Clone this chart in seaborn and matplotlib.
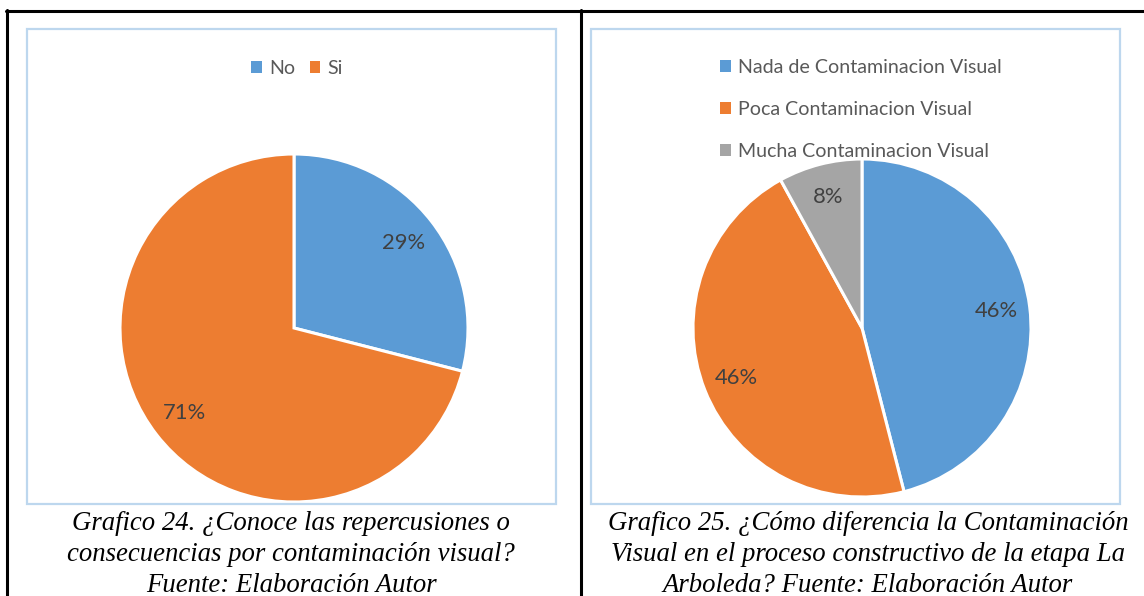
import matplotlib
matplotlib.use("Agg")
import matplotlib.pyplot as plt
from matplotlib.patches import Patch, Rectangle
from matplotlib.lines import Line2D
import seaborn as sns

# ---- data ----
q24_labels = ["No", "Si"]
q24_values = [29, 71]

q25_labels = ["Nada de Contaminacion Visual", "Poca Contaminacion Visual",
              "Mucha Contaminacion Visual"]
q25_values = [46, 46, 8]

caption_24 = ("Grafico 24. ¿Conoce las repercusiones o\n"
              "consecuencias por contaminación visual?\n"
              "Fuente: Elaboración Autor")
caption_25 = ("Grafico 25. ¿Cómo diferencia la Contaminación\n"
              "Visual en el proceso constructivo de la etapa La\n"
              "Arboleda? Fuente: Elaboración Autor")

sns.set_theme(style="white")
plt.rcParams["font.family"] = ["Lato", "DejaVu Sans"]

palette = sns.color_palette(["#5B9BD5", "#ED7D31", "#A5A5A5"])
W, H = 1144, 596
fig = plt.figure(figsize=(W / 100, H / 100), dpi=100)
fig.patch.set_facecolor("white")


def fx(px):
    return px / W


def fy(py):
    return 1 - py / H


# table frame lines
line_kw = dict(color="black", linewidth=2.2, transform=fig.transFigure)
fig.add_artist(Line2D([fx(6), 1.0], [fy(11), fy(11)], **line_kw))
fig.add_artist(Line2D([fx(7), fx(7)], [fy(10), 0], **line_kw))
fig.add_artist(Line2D([fx(581), fx(581)], [fy(10), 0], **line_kw))

# chart area boxes
box_kw = dict(fill=False, edgecolor="#BDD7EE", linewidth=1.6,
              transform=fig.transFigure)
fig.add_artist(Rectangle((fx(27), fy(504)), fx(556 - 27), (504 - 29) / H, **box_kw))
fig.add_artist(Rectangle((fx(591), fy(504)), fx(1120 - 591), (504 - 29) / H, **box_kw))


def pie_axes(cx, cy, r):
    ax = fig.add_axes([fx(cx - r), fy(cy + r), 2 * r / W, 2 * r / H])
    return ax


def draw_pie(ax, values, colors):
    total = sum(values)
    wedges, texts = ax.pie(
        values, colors=colors, startangle=90, counterclock=False, radius=1,
        labels=[f"{v / total * 100:.0f}%" for v in values],
        labeldistance=0.8,
        wedgeprops=dict(edgecolor="white", linewidth=2.2),
        textprops=dict(color="#404040", fontsize=15.8, ha="center", va="center"),
        frame=False,
    )
    ax.set_xlim(-1, 1)
    ax.set_ylim(-1, 1)
    ax.set_aspect("equal")
    ax.axis("off")
    return wedges


ax1 = pie_axes(294, 328, 174)
w1 = draw_pie(ax1, q24_values, palette[:2])
ax2 = pie_axes(862, 328, 169)
w2 = draw_pie(ax2, q25_values, palette[:3])

leg_kw = dict(frameon=False, fontsize=14.1, labelcolor="#595959",
              handlelength=0.55, handleheight=0.55, handletextpad=0.35,
              borderaxespad=0, borderpad=0)
h1 = [Patch(facecolor=c, edgecolor="none") for c in palette[:2]]
fig.legend(h1, q24_labels, loc="center", bbox_to_anchor=(fx(297), fy(68.5)),
           ncol=2, columnspacing=0.75, **leg_kw)
h2 = [Patch(facecolor=c, edgecolor="none") for c in palette[:3]]
fig.legend(h2, q25_labels, loc="upper left", bbox_to_anchor=(fx(720), fy(59)),
           ncol=1, labelspacing=1.27, **leg_kw)

cap_kw = dict(family="Liberation Serif", style="italic", fontsize=19.3,
              color="black", ha="center", va="top", linespacing=1.31)
fig.text(fx(291), fy(511), caption_24, **cap_kw)
fig.text(fx(868), fy(511), caption_25, **cap_kw)

fig.savefig("out.png", dpi=100, facecolor="white")
